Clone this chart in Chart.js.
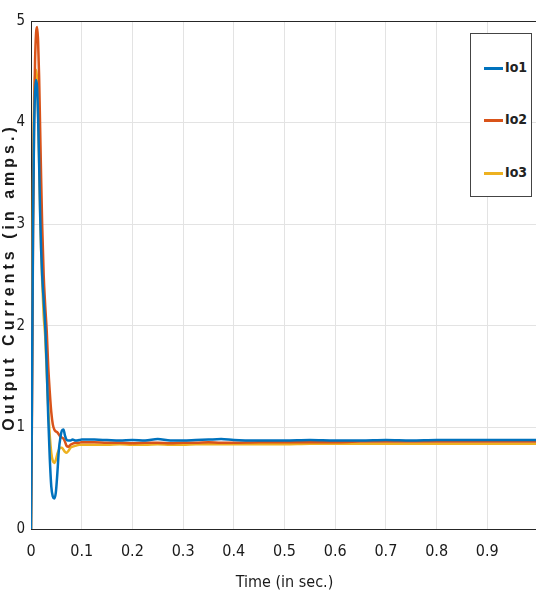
<!DOCTYPE html>
<html>
<head>
<meta charset="utf-8">
<script src="https://cdn.jsdelivr.net/npm/chart.js@4.4.1/dist/chart.umd.min.js"></script>
<style>
  html, body { margin: 0; padding: 0; background: #fff; overflow: hidden; }
  #wrap { position: relative; width: 536px; height: 598px; overflow: hidden; }
  #legend {
    position: absolute; left: 470px; top: 33px; width: 62px; height: 164px;
    border: 1px solid #444; background: #fff; box-sizing: border-box;
    font-family: 'Liberation Sans Narrow', 'DejaVu Sans Condensed', sans-serif;
    font-weight: bold; font-size: 14px; color: #222;
  }
  .item { position: absolute; left: 13px; height: 16px; line-height: 16px; white-space: nowrap; }
  .item span.swatch { display: inline-block; width: 19px; height: 3px; vertical-align: middle; margin-right: 2px; }
</style>
</head>
<body>
<div id="wrap">
  <canvas id="ioChart" width="540" height="598"></canvas>
  <div id="legend"></div>
</div>
<script>
// 시간 축 (초)
const times = [0, 0.002, 0.004, 0.006, 0.008, 0.010, 0.012, 0.014, 0.016, 0.018, 0.020, 0.022, 0.025, 0.028, 0.031,
  0.034, 0.037, 0.040, 0.043, 0.046, 0.049, 0.052, 0.055, 0.058, 0.061, 0.064, 0.067, 0.070, 0.074, 0.078, 0.082,
  0.088, 0.095, 0.10,
  0.125, 0.15, 0.175, 0.2, 0.225, 0.25, 0.275, 0.3, 0.325, 0.35, 0.375, 0.4, 0.45, 0.5, 0.55, 0.6, 0.65, 0.7, 0.75,
  0.8, 0.85, 0.9, 0.95, 1.0];

// 출력 전류 (A)
const io1 = [0, 1.4, 3.0, 3.9, 4.3, 4.42, 4.35, 4.05, 3.6, 3.1, 2.75, 2.5, 2.25, 2.0, 1.6,
  1.1, 0.7, 0.42, 0.32, 0.30, 0.36, 0.55, 0.78, 0.9, 0.97, 0.98, 0.92, 0.88, 0.87, 0.87, 0.88,
  0.87, 0.875, 0.88,
  0.88, 0.875, 0.87, 0.875, 0.87, 0.885, 0.87, 0.87, 0.875, 0.88, 0.885, 0.875, 0.87, 0.87, 0.875, 0.87, 0.87, 0.875,
  0.87, 0.875, 0.875, 0.875, 0.875, 0.875];

const io2 = [0, 1.2, 2.9, 4.0, 4.6, 4.88, 4.94, 4.8, 4.45, 3.95, 3.45, 3.0, 2.5, 2.2, 1.95,
  1.6, 1.35, 1.15, 1.03, 0.98, 0.96, 0.95, 0.93, 0.91, 0.9, 0.89, 0.86, 0.82, 0.81, 0.83, 0.84,
  0.85, 0.85, 0.855,
  0.855, 0.85, 0.85, 0.845, 0.85, 0.85, 0.845, 0.85, 0.85, 0.855, 0.85, 0.85, 0.855, 0.855, 0.855, 0.855, 0.86, 0.86,
  0.86, 0.86, 0.86, 0.86, 0.86, 0.86];

const io3 = [0, 1.8, 3.4, 4.2, 4.45, 4.52, 4.42, 4.1, 3.65, 3.15, 2.75, 2.45, 2.1, 1.9, 1.55,
  1.2, 0.92, 0.75, 0.67, 0.65, 0.68, 0.74, 0.78, 0.8, 0.8, 0.78, 0.76, 0.75, 0.77, 0.8, 0.81,
  0.82, 0.83, 0.83,
  0.83, 0.83, 0.835, 0.83, 0.83, 0.835, 0.83, 0.83, 0.835, 0.835, 0.835, 0.835, 0.835, 0.835, 0.84, 0.84, 0.84, 0.84,
  0.84, 0.84, 0.84, 0.84, 0.84, 0.84];

const seriesNames = ['Io1', 'Io2', 'Io3'];
const seriesColors = ['#0072bd', '#d95319', '#edb120'];
const xTicks = [0, 0.1, 0.2, 0.3, 0.4, 0.5, 0.6, 0.7, 0.8, 0.9];
const yTicks = [0, 1, 2, 3, 4, 5];

const tickFont = "'Liberation Sans Narrow', 'DejaVu Sans Condensed', sans-serif";

// 위쪽 테두리와 y축 제목 그리기
const framePlugin = {
    id: 'frame',
    afterDraw(chart) {
        const c = chart.ctx;
        const a = chart.chartArea;
        c.save();
        c.strokeStyle = '#262626';
        c.lineWidth = 1;
        c.beginPath();
        c.moveTo(a.left, a.top + 0.5);
        c.lineTo(a.right, a.top + 0.5);
        c.stroke();

        c.translate(10, (a.top + a.bottom) / 2 + 2);
        c.rotate(-Math.PI / 2);
        c.font = "bold 16px 'Liberation Sans', Arial, sans-serif";
        c.letterSpacing = '4px';
        c.fillStyle = '#1a1a1a';
        c.textAlign = 'center';
        c.textBaseline = 'middle';
        c.fillText('Output Currents (in amps.)', 0, 0);
        c.restore();
    }
};

const datasets = [io1, io2, io3].map((vals, i) => ({
    label: seriesNames[i],
    data: times.map((t, k) => ({ x: t, y: vals[k] })),
    borderColor: seriesColors[i],
    backgroundColor: seriesColors[i],
    borderWidth: 2.5,
    pointRadius: 0,
    cubicInterpolationMode: 'monotone',
    fill: false
}));

const ctx = document.getElementById('ioChart').getContext('2d');
const ioChart = new Chart(ctx, {
    type: 'line',
    data: { datasets: datasets },
    options: {
        responsive: false,
        devicePixelRatio: 1,
        animation: false,
        layout: { padding: { left: 0, top: 21, right: 2, bottom: 0 } },
        plugins: {
            legend: { display: false },
            tooltip: { enabled: false }
        },
        scales: {
            x: {
                type: 'linear',
                min: 0,
                max: 1,
                afterFit: s => { s.height = 69; },
                afterBuildTicks: s => { s.ticks = xTicks.map(v => ({ value: v })); },
                grid: { color: '#e3e3e3', drawTicks: false },
                border: { color: '#262626', width: 1 },
                ticks: {
                    padding: 13,
                    color: '#1a1a1a',
                    font: { family: tickFont, size: 16 },
                    maxRotation: 0,
                    callback: v => String(v)
                },
                title: {
                    display: true,
                    text: 'Time (in sec.)',
                    color: '#1a1a1a',
                    font: { family: tickFont, size: 16 },
                    padding: { top: 0, bottom: 6 }
                }
            },
            y: {
                min: 0,
                max: 5,
                afterFit: s => { s.width = 31; },
                afterBuildTicks: s => { s.ticks = yTicks.map(v => ({ value: v })); },
                grid: { color: '#e3e3e3', drawTicks: false },
                border: { color: '#262626', width: 1 },
                ticks: {
                    padding: 6,
                    color: '#1a1a1a',
                    font: { family: tickFont, size: 15 }
                }
            }
        }
    },
    plugins: [framePlugin]
});

// 범례 (데이터셋에서 생성)
const legendEl = document.getElementById('legend');
const itemTops = [25, 77, 130];
ioChart.data.datasets.forEach((ds, i) => {
    const item = document.createElement('div');
    item.className = 'item';
    item.style.top = itemTops[i] + 'px';
    item.innerHTML = '<span class="swatch" style="background:' + ds.borderColor + '"></span>' + ds.label;
    legendEl.appendChild(item);
});
</script>
</body>
</html>
